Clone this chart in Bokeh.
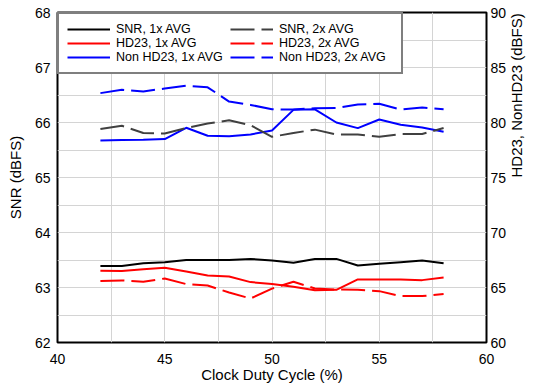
import math
from bokeh.plotting import figure
from bokeh.models import (Range1d, LinearAxis, SingleIntervalTicker, FixedTicker,
                          Legend, LegendItem)
from bokeh.embed import file_html
from bokeh.resources import INLINE

duty = [42, 43, 44, 45, 46, 47, 48, 49, 50, 51, 52, 53, 54, 55, 56, 57, 58]
snr_1x = [63.39, 63.39, 63.44, 63.46, 63.50, 63.50, 63.50, 63.52, 63.49, 63.45,
          63.52, 63.52, 63.40, 63.43, 63.46, 63.49, 63.44]
snr_2x = [65.88, 65.94, 65.81, 65.80, 65.90, 65.98, 66.04, 65.95, 65.74, 65.81,
          65.87, 65.78, 65.78, 65.74, 65.79, 65.79, 65.90]
hd23_1x = [66.52, 66.49, 66.67, 66.79, 66.45, 66.09, 66.00, 65.49, 65.31, 65.06,
           64.76, 64.79, 65.73, 65.73, 65.73, 65.67, 65.91]
hd23_2x = [65.58, 65.64, 65.52, 65.82, 65.31, 65.18, 64.55, 64.00, 64.90, 65.52,
           64.91, 64.82, 64.79, 64.67, 64.22, 64.22, 64.40]
non_1x = [78.36, 78.40, 78.43, 78.49, 79.52, 78.79, 78.76, 78.91, 79.27, 81.15,
          81.20, 80.00, 79.49, 80.27, 79.79, 79.55, 79.15]
non_2x = [82.67, 82.97, 82.82, 83.09, 83.34, 83.20, 81.90, 81.60, 81.20, 81.18,
          81.30, 81.33, 81.64, 81.70, 81.18, 81.36, 81.20]

x_ticks = [40, 45, 50, 55, 60]
left_ticks = [62, 63, 64, 65, 66, 67, 68]
right_ticks = [60, 65, 70, 75, 80, 85, 90]

FONT = "Liberation Sans"

p = figure(width=536, height=387, output_backend="svg", toolbar_location=None,
           x_range=Range1d(40, 60), y_range=Range1d(62, 68),
           min_border_left=57, min_border_right=49, min_border_top=12,
           min_border_bottom=45)
p.extra_y_ranges = {"right": Range1d(60, 90)}

p.outline_line_color = "black"
p.outline_line_width = 2
p.outline_line_alpha = 1.0

p.xgrid.ticker = SingleIntervalTicker(interval=2.5)
p.ygrid.ticker = SingleIntervalTicker(interval=0.5)
for g in (p.xgrid, p.ygrid):
    g.grid_line_color = "#d4d4d4"
    g.grid_line_width = 1

p.xaxis.ticker = FixedTicker(ticks=x_ticks)
p.yaxis.ticker = FixedTicker(ticks=left_ticks)
p.xaxis.axis_label = "Clock Duty Cycle (%)"
p.yaxis.axis_label = "SNR (dBFS)"

raxis = LinearAxis(y_range_name="right", ticker=FixedTicker(ticks=right_ticks),
                   axis_label="HD23, NonHD23 (dBFS)")
p.add_layout(raxis, "right")

for ax in (p.xaxis[0], p.yaxis[0], raxis):
    ax.axis_line_color = None
    ax.major_tick_line_color = None
    ax.minor_tick_line_color = None
    ax.major_tick_out = 0
    ax.major_tick_in = 0
    ax.minor_tick_out = 0
    ax.minor_tick_in = 0
    ax.major_label_text_font = FONT
    ax.major_label_text_font_size = "14px"
    ax.major_label_text_color = "black"
    ax.axis_label_text_font = FONT
    ax.axis_label_text_font_size = "15px"
    ax.axis_label_text_font_style = "normal"
    ax.axis_label_text_color = "black"

p.xaxis.major_label_standoff = 11
p.xaxis.axis_label_standoff = -1
p.yaxis.major_label_standoff = 7
p.yaxis.axis_label_standoff = 8
raxis.major_label_standoff = 4
raxis.axis_label_standoff = 7
raxis.axis_label_text_line_height = 0.6
raxis.axis_label_orientation = math.pi / 2

dash = "24 7"
r1 = p.line(duty, snr_1x, line_color="black", line_width=2)
r2 = p.line(duty, hd23_1x, line_color="#ff0000", line_width=2, y_range_name="right")
r3 = p.line(duty, non_1x, line_color="#0000ff", line_width=2, y_range_name="right")
r4 = p.line(duty, snr_2x, line_color="#404040", line_width=2, line_dash=dash)
r5 = p.line(duty, hd23_2x, line_color="#ff0000", line_width=2, line_dash=dash,
            y_range_name="right")
r6 = p.line(duty, non_2x, line_color="#0000ff", line_width=2, line_dash=dash,
            y_range_name="right")

legend = Legend(items=[
    LegendItem(label="SNR, 1x AVG", renderers=[r1]),
    LegendItem(label="HD23, 1x AVG", renderers=[r2]),
    LegendItem(label="Non HD23, 1x AVG", renderers=[r3]),
    LegendItem(label="SNR, 2x AVG", renderers=[r4]),
    LegendItem(label="HD23, 2x AVG", renderers=[r5]),
    LegendItem(label="Non HD23, 2x AVG", renderers=[r6]),
], ncols=2, location="top_left", margin=0, padding=8, spacing=0,
    glyph_width=43, glyph_height=14, label_height=14, label_width=114,
    label_standoff=6, label_text_font=FONT, label_text_font_size="12.5px",
    label_text_color="black", border_line_color="black", border_line_width=2,
    background_fill_color="white", background_fill_alpha=1.0)
p.add_layout(legend, "center")

open("out.html", "w").write(file_html(p, INLINE))
